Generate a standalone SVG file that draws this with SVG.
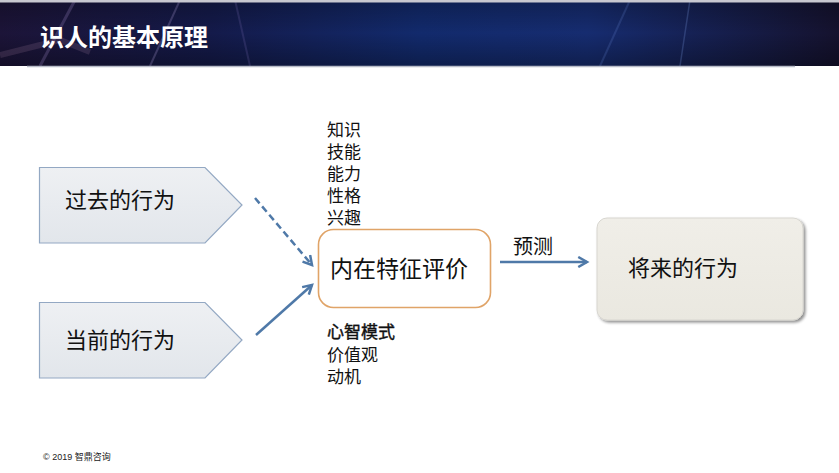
<svg xmlns="http://www.w3.org/2000/svg" width="839" height="473" viewBox="0 0 839 473">
<defs>
<linearGradient id="hdr" x1="0" y1="0" x2="1" y2="0">
<stop offset="0" stop-color="#1c1438"/>
<stop offset="0.25" stop-color="#141a4a"/>
<stop offset="0.5" stop-color="#122a6c"/>
<stop offset="0.7" stop-color="#162c70"/>
<stop offset="1" stop-color="#15122e"/>
</linearGradient>
<linearGradient id="hdrV" x1="0" y1="0" x2="0" y2="1">
<stop offset="0" stop-color="#000" stop-opacity="0.25"/>
<stop offset="0.5" stop-color="#000" stop-opacity="0"/>
<stop offset="1" stop-color="#000" stop-opacity="0.3"/>
</linearGradient>
<linearGradient id="pent" x1="0" y1="0" x2="0" y2="1">
<stop offset="0" stop-color="#eef0f3"/>
<stop offset="1" stop-color="#e2e6eb"/>
</linearGradient>
<linearGradient id="fut" x1="0" y1="0" x2="0" y2="1">
<stop offset="0" stop-color="#f0eee8"/>
<stop offset="1" stop-color="#eae8e0"/>
</linearGradient>
<filter id="sh" x="-10%" y="-10%" width="125%" height="130%">
<feGaussianBlur in="SourceAlpha" stdDeviation="1.5"/>
<feOffset dx="1.5" dy="2" result="b"/>
<feComponentTransfer><feFuncA type="linear" slope="0.45"/></feComponentTransfer>
<feMerge><feMergeNode/><feMergeNode in="SourceGraphic"/></feMerge>
</filter>
<marker id="ah" viewBox="0 0 10 10" refX="8" refY="5" markerWidth="5" markerHeight="5" orient="auto" markerUnits="strokeWidth">
<path d="M1,1 L8,5 L1,9" fill="none" stroke="#4f79a8" stroke-width="2"/>
</marker>
<style>
.cn{font-family:"Liberation Sans","Noto Sans CJK SC",sans-serif;fill:#111}
.big{font-size:22px}
.lbl{font-size:17px}
.pent{fill:url(#pent);stroke:#93a8c3;stroke-width:1.2}
.conn{stroke:#4f79a8;stroke-width:2.5;fill:none}
</style>
</defs>
<rect width="839" height="473" fill="#fff"/>
<g id="header">
<rect x="0" y="0" width="839" height="66" fill="url(#hdr)"/>
<rect x="0" y="0" width="839" height="66" fill="url(#hdrV)"/>
<path d="M40,66 L75,0" stroke="#a08ac8" stroke-width="3" opacity="0.25"/>
<path d="M150,66 L180,0" stroke="#b0a0d8" stroke-width="2" opacity="0.25"/>
<path d="M250,66 L235,0" stroke="#8070b8" stroke-width="2" opacity="0.2"/>
<path d="M600,66 L630,0" stroke="#6a8ad8" stroke-width="2" opacity="0.2"/>
<path d="M680,66 L690,0" stroke="#7a9ae0" stroke-width="1.5" opacity="0.25"/>
<path d="M0,55 L60,40 L90,52" stroke="#d0a0c0" stroke-width="6" fill="none" opacity="0.15"/>
<rect x="0" y="0" width="839" height="2.5" fill="#c8c8d0"/>
<line x1="27" y1="66.5" x2="795" y2="66.5" stroke="#b8bcc8" stroke-width="1.5"/>
<text x="40" y="46" font-family="'Noto Sans CJK SC',sans-serif" font-weight="bold" font-size="24" fill="#fff">识人的基本原理</text>
</g>
<g id="past">
<polygon class="pent" points="39.5,167.5 205,167.5 242,205 205,243 39.5,243"/>
<text class="cn big" x="65" y="208">过去的行为</text>
</g>
<g id="present">
<polygon class="pent" points="39.5,302.5 205,302.5 242,340 205,378 39.5,378"/>
<text class="cn big" x="65" y="348">当前的行为</text>
</g>
<g id="inner">
<rect x="318.5" y="229.5" width="172" height="78" rx="15" fill="#fff" stroke="#e0a468" stroke-width="1.6"/>
<text class="cn" font-size="23" x="330" y="277">内在特征评价</text>
</g>
<g id="traits-top" class="cn lbl">
<text x="327" y="136">知识</text>
<text x="327" y="158">技能</text>
<text x="327" y="180">能力</text>
<text x="327" y="202">性格</text>
<text x="327" y="224">兴趣</text>
</g>
<g id="traits-bottom" class="cn lbl">
<text x="327" y="338" stroke="#111" stroke-width="0.4">心智模式</text>
<text x="327" y="361">价值观</text>
<text x="327" y="383">动机</text>
</g>
<g id="future">
<rect x="597" y="218" width="206" height="102" rx="10" fill="url(#fut)" stroke="#d8d6d0" stroke-width="1" filter="url(#sh)"/>
<text class="cn big" x="628" y="276">将来的行为</text>
</g>
<g id="connectors">
<line class="conn" x1="255" y1="198" x2="312" y2="265" stroke-dasharray="7,4" marker-end="url(#ah)"/>
<line class="conn" x1="256" y1="335" x2="312" y2="285" marker-end="url(#ah)"/>
<line class="conn" x1="500" y1="262" x2="587" y2="262" marker-end="url(#ah)"/>
<text class="cn" font-size="20" x="513" y="254">预测</text>
</g>
<text x="43" y="460" font-family="'Liberation Sans','Noto Sans CJK SC',sans-serif" font-size="9" fill="#222">© 2019 智鼎咨询</text>
</svg>
